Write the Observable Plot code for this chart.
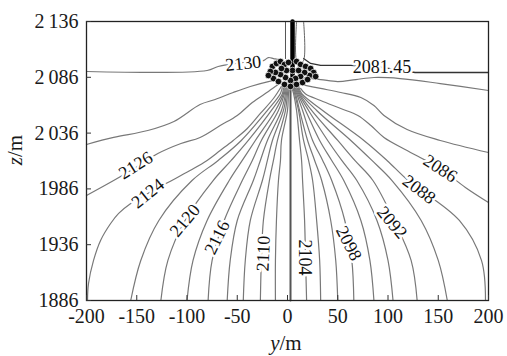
<!DOCTYPE html>
<html><head><meta charset="utf-8">
<script src="https://cdn.jsdelivr.net/npm/d3@7"></script>
<script src="https://cdn.jsdelivr.net/npm/@observablehq/plot@0.6"></script>
<style>html,body{margin:0;padding:0;background:#fff}svg{display:block}svg text{font-family:"Liberation Serif",serif}</style>
</head><body><div id="chart"></div>
<script>
// axes
const xTicks = [-200,-150,-100,-50,0,50,100,150,200];
const xTickLabels = ["-200","-150","-100","-50","0","50","100","150","200"];
const zTicks = [1886,1936,1986,2036,2086,2136];
const zTickLabels = ["1886","1936","1986","2\u2009036","2\u2009086","2\u2009136"];
const xTitle = ["y","/m"];
const zTitle = ["z","/m"];

// contours sampled at common elevations (y values in m at each elevation)
const zLev = [1886,1921.9,1957.7,1993.5,2011.5,2029.4,2056.3,2071.5,2078];
const fanLevels = [2122,2120,2118,2116,2114,2112,2110,2108,2104,2102,2100,2098,2096,2094,2092,2090,2088];
const y2122 = [-156,-146,-128,-95,-69,-46,-20,-7,-5];
const y2120 = [-126,-119,-102,-74,-56,-39,-16,-5,-4];
const y2118 = [-100,-94,-80,-58,-45,-32,-12,-4,-3];
const y2116 = [-79,-75,-63,-45,-35,-26,-9,-3,-2];
const y2114 = [-60,-57,-50,-34,-27,-20,-6,-2,-1];
const y2112 = [-44,-42,-37,-25,-20,-15,-4,-1,0];
const y2110 = [-27,-26,-24,-18,-14,-10,-2,0,1];
const y2108 = [-12,-12,-11,-9,-7,-6,0,1,2];
const y2104 = [19,18,17,15,14,12,9,6,4];
const y2102 = [33,32,29,25,21,16,11,7,5];
const y2100 = [50,48,43,34,27,20,12,8,5.5];
const y2098 = [66,64,57,44,35,25,15,9,6];
const y2096 = [86,82,73,56,44,32,18,10,7];
const y2094 = [105,100,89,69,54,40,21,11,8];
const y2092 = [129,123,106,85,67,50,24,12,9];
const y2090 = [159,150,133,104,84,63,29,13,10];
const y2088 = [197,193,171,120,99,76,35,14,11];
const fanY = [y2122,y2120,y2118,y2116,y2114,y2112,y2110,y2108,y2104,y2102,y2100,y2098,y2096,y2094,y2092,y2090,y2088];

// contours given as [y, z] points
const c2130 = [[-200,2091.2],[-80,2092.1],[-69,2095.7],[-44,2099.3],[-24,2101],[-19,2103.7],[-14,2102.8],[-7,2101],[-3,2096.6],[0,2092.1]];
const c2128 = [[-200,2025.8],[-173,2032.1],[-139,2038.3],[-113,2046.4],[-87,2061.6],[-72,2066.1],[-54,2072.4],[-37,2077.8],[-19,2082.2],[-8,2084]];
const c2126 = [[-200,1980.1],[-173,1993.5],[-151,2005.2],[-129,2017.7],[-106,2026.7],[-87,2032.1],[-67,2042.8],[-50,2051.8],[-35,2063.4],[-19,2073.3],[-8,2080.4]];
const c2124 = [[-199,1886],[-198,1901.2],[-193,1921.9],[-186,1939.8],[-176,1955],[-168,1964],[-156,1972.9],[-139,1981.9],[-119,1991.7],[-97,2002.5],[-80,2011.5],[-67,2020.4],[-54,2029.4],[-40,2040.1],[-27,2053.6],[-14,2067],[-6,2078]];
const c2086 = [[200,1973.8],[177,1987.3],[152,2004.3],[132,2014.1],[119,2020.4],[96,2032.1],[83,2042.8],[70,2051.8],[53,2058],[33,2065.2],[18,2071],[13,2076]];
const c2084 = [[200,2018.6],[152,2029.4],[119,2039.2],[96,2051.8],[86,2060.7],[73,2067.9],[53,2072.4],[33,2076],[13,2079.6]];
const c2082 = [[13,2085.8],[33,2084],[50,2082.2],[68,2084],[86,2085.8],[112,2084.9],[152,2080.4],[200,2074.2]];
const c2106 = [[3,1886],[3,2077]];
const leader = [[16,2102.8],[23,2098.4],[33,2096.6],[63,2096.6],[94,2094.8],[127,2090.3],[200,2090.3]];

// well and seepage zone
const wellBar = [[5,2136],[5,2078]];
const wellLeft = [[-2,2136],[-2,2102.8]];
const wellRight = [[9,2136],[9,2101],[12,2098.4],[16,2101],[16,2136]];
const blob = [[-15,2095.7],[-11,2098.4],[-7,2100.2],[-3,2097.5],[1,2099.3],[9,2100.2],[13,2097.5],[18,2095.7],[23,2093.9],[26,2090.3],[22,2087.6],[17,2090.3],[13,2086.7],[8,2084.9],[3,2083.1],[-2,2085.8],[-7,2088.5],[-12,2090.3],[-17,2091.2],[-14,2084.9],[-9,2082.2],[-3,2079.6],[3,2077.8],[9,2079.6],[15,2081.3],[20,2084],[5,2092.1],[-1,2092.1],[11,2092.1],[-6,2093.9],[-19,2087.6],[28,2086.7]];

// contour labels
const labelText = ["2130","2126","2124","2120","2116","2110","2104","2098","2092","2088","2086","2081.45"];
const labelY = [-44,-151,-139,-102,-70,-24,17,61,104,131,152,94];
const labelZ = [2098.4,2007,1981.9,1957.7,1942.5,1928.1,1924.5,1937.1,1955.9,1985.5,2004.3,2094.8];
const labelAngle = [-6,-32,-39,-50,-64,-88,90,63,50,37,33,0];

// build tables
const rows = [];
fanLevels.forEach((lev, i) => fanY[i].forEach((y, j) => rows.push({level: lev, y, z: zLev[j]})));
const extra = [[2130,c2130],[2128,c2128],[2126,c2126],[2124,c2124],[2086,c2086],[2084,c2084],[2082,c2082]];
extra.forEach(([lev, pts]) => pts.forEach(([y, z]) => rows.push({level: lev, y, z})));
const labels = labelText.map((t, i) => ({t, y: labelY[i], z: labelZ[i], a: labelAngle[i]}));

const FONT = "Liberation Serif";
const lineColor = "#787878";

const chart = Plot.plot({
  width: 507, height: 356,
  marginLeft: 86, marginRight: 19, marginTop: 21, marginBottom: 56,
  style: {fontFamily: FONT, fontSize: "20px", color: "#1a1a1a", background: "#fff"},
  x: {domain: [-200, 200]},
  y: {domain: [1886, 2136]},
  marks: [
    Plot.line(rows, {x: "y", y: "z", z: "level", stroke: lineColor, strokeWidth: 1.2, curve: "catmull-rom"}),
    Plot.line(c2106, {x: d => d[0], y: d => d[1], stroke: "#555", strokeWidth: 2}),
    Plot.line(leader, {x: d => d[0], y: d => d[1], stroke: "#333", strokeWidth: 1.3}),
    Plot.line(wellLeft, {x: d => d[0], y: d => d[1], stroke: "#555", strokeWidth: 1}),
    Plot.line(wellRight, {x: d => d[0], y: d => d[1], stroke: "#666", strokeWidth: 1, curve: "catmull-rom"}),
    Plot.line(wellBar, {x: d => d[0], y: d => d[1], stroke: "#000", strokeWidth: 4.5}),
    Plot.dot(blob, {x: d => d[0], y: d => d[1], r: 3.3, stroke: "#fff", strokeWidth: 0.7, fill: "#111"}),
    Plot.text(labels, {x: "y", y: "z", text: "t", rotate: "a", fontSize: 18, fill: "#111",
      stroke: "#fff", strokeWidth: 5, paintOrder: "stroke", textAnchor: "middle", lineAnchor: "middle"}),
    Plot.frame({stroke: "#222", strokeWidth: 1.3}),
    Plot.axisX(xTicks, {tickSize: -5, fill: "none", label: null, stroke: "#333"}),
    Plot.axisY(zTicks, {tickSize: -5, fill: "none", label: null, stroke: "#333"}),
    Plot.axisX(xTicks, {tickSize: 0, tickPadding: 8, fontSize: 20, label: null, tickFormat: d => xTickLabels[xTicks.indexOf(d)]}),
    Plot.axisY(zTicks, {tickSize: 0, tickPadding: 8, fontSize: 20, label: null, tickFormat: d => zTickLabels[zTicks.indexOf(d)]}),
    Plot.text([xTitle[0]], {frameAnchor: "bottom", dx: -8, dy: 43, textAnchor: "end", lineAnchor: "middle", fontStyle: "italic", fontSize: 21}),
    Plot.text([xTitle[1]], {frameAnchor: "bottom", dx: -8, dy: 43, textAnchor: "start", lineAnchor: "middle", fontSize: 21}),
    Plot.text([zTitle[0]], {frameAnchor: "left", dx: -71, dy: -4, rotate: -90, textAnchor: "end", lineAnchor: "middle", fontStyle: "italic", fontSize: 21}),
    Plot.text([zTitle[1]], {frameAnchor: "left", dx: -71, dy: -4, rotate: -90, textAnchor: "start", lineAnchor: "middle", fontSize: 21})
  ]
});
document.getElementById("chart").appendChild(chart);
</script>
</body></html>
